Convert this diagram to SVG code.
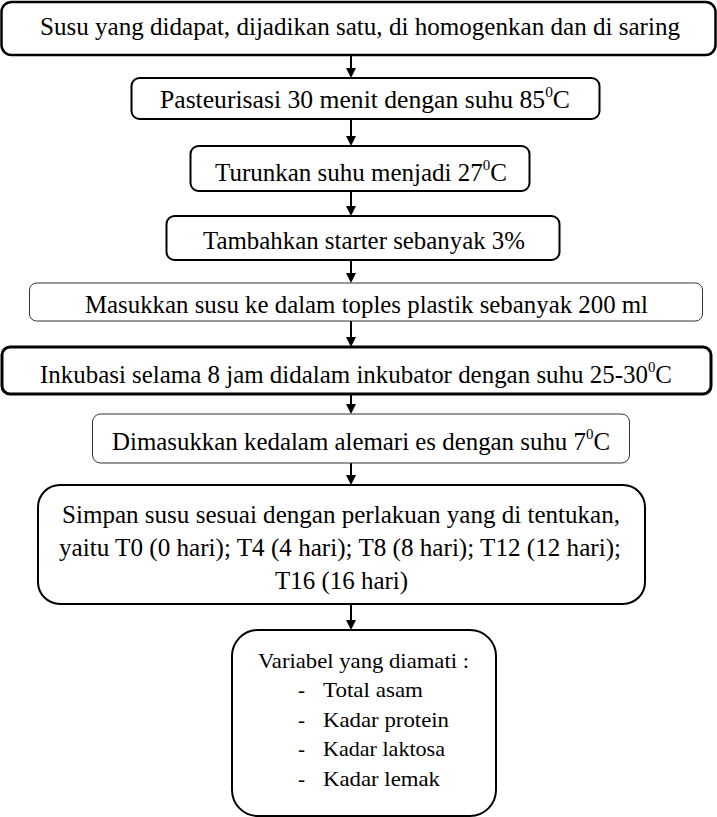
<svg xmlns="http://www.w3.org/2000/svg" xmlns:xlink="http://www.w3.org/1999/xlink" width="717" height="817" viewBox="0 0 717 817">
<defs>
<path id="ah" d="M-5,-10 L5,-10 L0,0 Z" fill="#000"/>
<clipPath id="c5"><rect x="0" y="283" width="717" height="35"/></clipPath>
</defs>
<style>
rect{fill:#fff;stroke:#000}
text{font-family:'Liberation Serif','Times New Roman',serif;font-size:25px;fill:#000}
.sup{font-size:15px}
.v{font-size:21px}
line{stroke:#000;stroke-width:2}
</style>
<rect width="717" height="817" style="stroke:none"/>
<g id="connectors">
<line x1="351" y1="55" x2="351" y2="70"/><use href="#ah" xlink:href="#ah" x="351" y="78"/>
<line x1="351" y1="119" x2="351" y2="138"/><use href="#ah" xlink:href="#ah" x="351" y="146"/>
<line x1="351" y1="191" x2="351" y2="208"/><use href="#ah" xlink:href="#ah" x="351" y="216"/>
<line x1="351" y1="260" x2="351" y2="275"/><use href="#ah" xlink:href="#ah" x="351" y="283"/>
<line x1="351" y1="321" x2="351" y2="339"/><use href="#ah" xlink:href="#ah" x="351" y="347"/>
<line x1="351" y1="394" x2="351" y2="406"/><use href="#ah" xlink:href="#ah" x="351" y="414"/>
<line x1="351" y1="463" x2="351" y2="477"/><use href="#ah" xlink:href="#ah" x="351" y="485"/>
<line x1="351" y1="604" x2="351" y2="622"/><use href="#ah" xlink:href="#ah" x="351" y="630"/>
</g>
<g id="n1">
<rect x="1.5" y="2" width="714" height="53" rx="10" style="stroke-width:2.5"/>
<text x="40" y="35" textLength="640" lengthAdjust="spacingAndGlyphs">Susu yang didapat, dijadikan satu, di homogenkan dan di saring</text>
</g>
<g id="n2">
<rect x="131.5" y="78" width="468" height="41" rx="8" style="stroke-width:2"/>
<text x="160" y="108" textLength="410" lengthAdjust="spacingAndGlyphs">Pasteurisasi  30 menit dengan suhu 85<tspan class="sup" dy="-11">0</tspan><tspan dy="11">C</tspan></text>
</g>
<g id="n3">
<rect x="190.5" y="146" width="339" height="45" rx="8" style="stroke-width:2"/>
<text x="215" y="181" textLength="292" lengthAdjust="spacingAndGlyphs">Turunkan suhu menjadi 27<tspan class="sup" dy="-11">0</tspan><tspan dy="11">C</tspan></text>
</g>
<g id="n4">
<rect x="166.5" y="216" width="393" height="44" rx="8" style="stroke-width:2"/>
<text x="203" y="249" textLength="322" lengthAdjust="spacingAndGlyphs">Tambahkan starter sebanyak 3%</text>
</g>
<g id="n5">
<rect x="29.5" y="283" width="673" height="38" rx="7" style="stroke-width:1;stroke:#333"/>
<text x="85" y="313" textLength="563" lengthAdjust="spacingAndGlyphs" clip-path="url(#c5)">Masukkan susu ke dalam toples plastik sebanyak 200 ml</text>
</g>
<g id="n6">
<rect x="2" y="347" width="709" height="47" rx="8" style="stroke-width:3"/>
<text x="40" y="383" textLength="632" lengthAdjust="spacingAndGlyphs">Inkubasi selama 8 jam didalam inkubator dengan suhu 25-30<tspan class="sup" dy="-11">0</tspan><tspan dy="11">C</tspan></text>
</g>
<g id="n7">
<rect x="92.5" y="414" width="537" height="49" rx="8" style="stroke-width:1;stroke:#333"/>
<text x="112" y="450" textLength="498" lengthAdjust="spacingAndGlyphs">Dimasukkan kedalam alemari es dengan suhu 7<tspan class="sup" dy="-11">0</tspan><tspan dy="11">C</tspan></text>
</g>
<g id="n8">
<rect x="38" y="485" width="607" height="119" rx="22" style="stroke-width:2"/>
<text x="62" y="523" textLength="558" lengthAdjust="spacingAndGlyphs">Simpan susu sesuai dengan perlakuan yang di tentukan,</text>
<text x="59" y="556" textLength="562" lengthAdjust="spacingAndGlyphs">yaitu T0 (0 hari); T4 (4 hari); T8 (8 hari); T12 (12 hari);</text>
<text x="275" y="589" textLength="133" lengthAdjust="spacingAndGlyphs">T16 (16 hari)</text>
</g>
<g id="n9">
<rect x="232" y="630" width="264" height="186" rx="26" style="stroke-width:2"/>
<text class="v" x="258" y="668" textLength="211" lengthAdjust="spacingAndGlyphs">Variabel yang diamati :</text>
<text class="v" x="298" y="697">-</text><text class="v" x="323" y="697" textLength="100" lengthAdjust="spacingAndGlyphs">Total asam</text>
<text class="v" x="298" y="727">-</text><text class="v" x="323" y="727" textLength="126" lengthAdjust="spacingAndGlyphs">Kadar protein</text>
<text class="v" x="298" y="756">-</text><text class="v" x="323" y="756" textLength="122" lengthAdjust="spacingAndGlyphs">Kadar laktosa</text>
<text class="v" x="298" y="786">-</text><text class="v" x="323" y="786" textLength="117" lengthAdjust="spacingAndGlyphs">Kadar lemak</text>
</g>
</svg>
